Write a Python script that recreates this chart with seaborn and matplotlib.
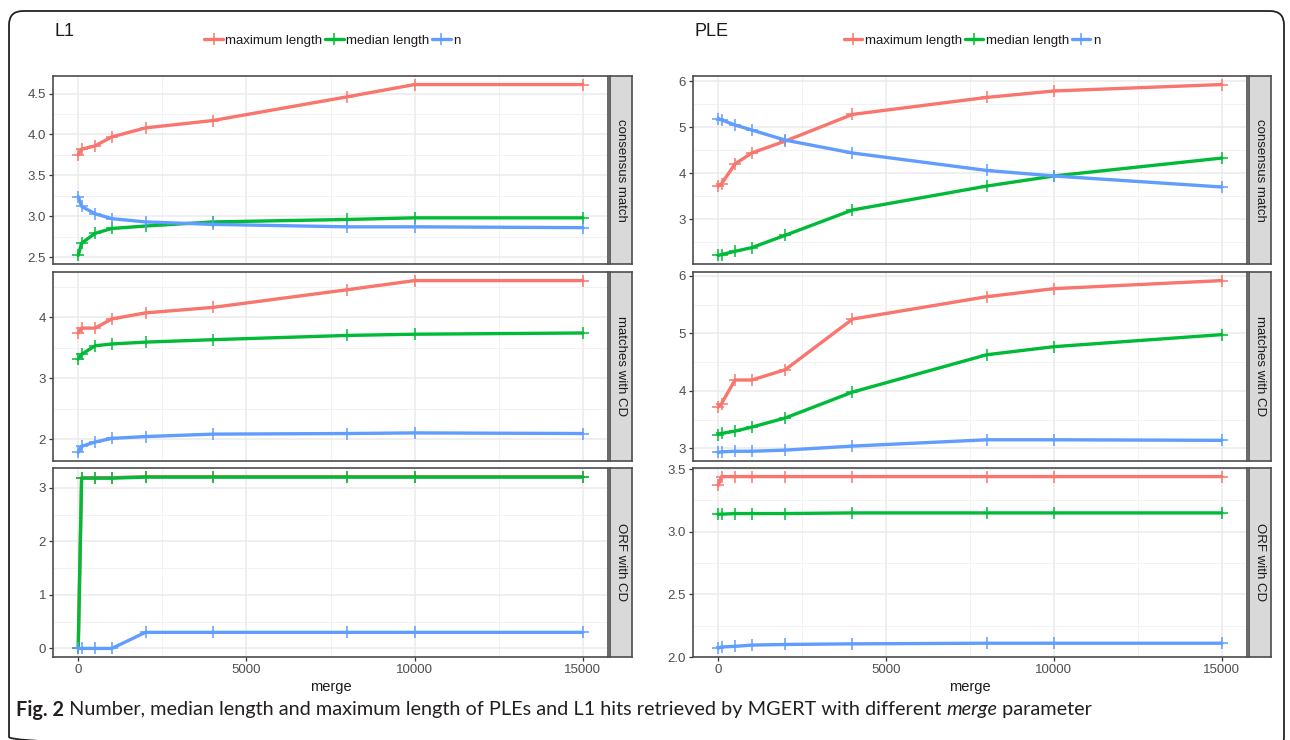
import numpy as np
import pandas as pd
import matplotlib
matplotlib.use('Agg')
import matplotlib.pyplot as plt
from matplotlib.patches import FancyBboxPatch
from matplotlib.lines import Line2D
import seaborn as sns

# merge parameter values (x axis)
merge = [0, 100, 500, 1000, 2000, 4000, 8000, 10000, 15000]
series_names = ['maximum length', 'median length', 'n']
facet_names = ['consensus match', 'matches with CD', 'ORF with CD']
x_ticks = [0, 5000, 10000, 15000]

# L1 values
l1_cons_max = [3.75, 3.82, 3.86, 3.97, 4.08, 4.17, 4.46, 4.61, 4.61]
l1_cons_med = [2.52, 2.67, 2.79, 2.85, 2.88, 2.93, 2.96, 2.98, 2.98]
l1_cons_n = [3.24, 3.12, 3.03, 2.97, 2.93, 2.90, 2.87, 2.87, 2.86]
l1_cd_max = [3.74, 3.82, 3.82, 3.97, 4.07, 4.16, 4.45, 4.60, 4.60]
l1_cd_med = [3.31, 3.39, 3.53, 3.56, 3.59, 3.63, 3.70, 3.72, 3.74]
l1_cd_n = [1.78, 1.88, 1.95, 2.01, 2.04, 2.08, 2.09, 2.10, 2.09]
l1_orf_max = [0.0, 3.19, 3.19, 3.19, 3.21, 3.21, 3.21, 3.21, 3.21]
l1_orf_med = [0.0, 3.18, 3.18, 3.18, 3.20, 3.20, 3.20, 3.20, 3.20]
l1_orf_n = [0.0, 0.0, 0.0, 0.0, 0.30, 0.30, 0.30, 0.30, 0.30]
l1_yticks = [[2.5, 3.0, 3.5, 4.0, 4.5], [2, 3, 4], [0, 1, 2, 3]]

# PLE values
ple_cons_max = [3.72, 3.77, 4.20, 4.44, 4.70, 5.28, 5.65, 5.79, 5.93]
ple_cons_med = [2.21, 2.23, 2.30, 2.38, 2.65, 3.20, 3.72, 3.94, 4.33]
ple_cons_n = [5.19, 5.16, 5.05, 4.94, 4.72, 4.44, 4.06, 3.94, 3.70]
ple_cd_max = [3.72, 3.78, 4.19, 4.19, 4.37, 5.25, 5.64, 5.78, 5.92]
ple_cd_med = [3.24, 3.26, 3.30, 3.37, 3.53, 3.98, 4.63, 4.77, 4.98]
ple_cd_n = [2.93, 2.94, 2.95, 2.95, 2.97, 3.04, 3.15, 3.15, 3.14]
ple_orf_max = [3.37, 3.44, 3.44, 3.44, 3.44, 3.44, 3.44, 3.44, 3.44]
ple_orf_med = [3.14, 3.14, 3.145, 3.145, 3.145, 3.15, 3.15, 3.15, 3.15]
ple_orf_n = [2.07, 2.08, 2.085, 2.095, 2.10, 2.105, 2.11, 2.11, 2.11]
ple_yticks = [[3, 4, 5, 6], [3, 4, 5, 6], [2.0, 2.5, 3.0, 3.5]]

caption_bold = 'Fig. 2'
caption_text = ' Number, median length and maximum length of PLEs and L1 hits retrieved by MGERT with different '
caption_italic = 'merge'
caption_end = ' parameter'

palette = {'maximum length': '#F8766D', 'median length': '#00BA38', 'n': '#619CFF'}


def long_table(block):
    rows = []
    for facet, series in zip(facet_names, block):
        for name, values in zip(series_names, series):
            for m, v in zip(merge, values):
                rows.append({'facet': facet, 'series': name, 'merge': m, 'value': v})
    return pd.DataFrame(rows)


l1_df = long_table([[l1_cons_max, l1_cons_med, l1_cons_n],
                    [l1_cd_max, l1_cd_med, l1_cd_n],
                    [l1_orf_max, l1_orf_med, l1_orf_n]])
ple_df = long_table([[ple_cons_max, ple_cons_med, ple_cons_n],
                     [ple_cd_max, ple_cd_med, ple_cd_n],
                     [ple_orf_max, ple_orf_med, ple_orf_n]])

sns.set_theme(style='white')
plt.rcParams['font.family'] = ['Liberation Sans', 'DejaVu Sans']

W, H = 1290, 740
fig = plt.figure(figsize=(W / 100, H / 100), dpi=100)
fig.patch.set_facecolor('white')


def px(x0, y0, x1, y1):
    return [x0 / W, 1 - y1 / H, (x1 - x0) / W, (y1 - y0) / H]


# background axes in pixel units for the frame and texts
bg = fig.add_axes([0, 0, 1, 1])
bg.set_xlim(0, W)
bg.set_ylim(H, 0)
bg.axis('off')
bg.add_patch(FancyBboxPatch((9, 11), 1275, 740, boxstyle='round,pad=0,rounding_size=14',
                            fc='none', ec='#222222', lw=1.3))

rows_y = [(76, 264), (272, 461), (468, 657)]
blocks = [('L1', l1_df, l1_yticks, 53, 608), ('PLE', ple_df, ple_yticks, 693, 1247)]

grey_text = '#4D4D4D'
border = '#4D4D4D'

for title, df, yticks_all, x0, x1 in blocks:
    for i, facet in enumerate(facet_names):
        y0, y1 = rows_y[i]
        ax = fig.add_axes(px(x0, y0, x1, y1))
        sub = df[df['facet'] == facet]
        sns.lineplot(data=sub, x='merge', y='value', hue='series', hue_order=series_names,
                     palette=palette, marker='+', markersize=9, linewidth=2.4,
                     legend=False, ax=ax, sort=True)
        for ln in ax.lines:
            ln.set_markeredgecolor(ln.get_color())
            ln.set_markeredgewidth(1.1)

        # ggplot-like expansion (5%)
        lo, hi = sub['value'].min(), sub['value'].max()
        pad = (hi - lo) * 0.05
        ax.set_ylim(lo - pad, hi + pad)
        ax.set_xlim(-750, 15750)

        yt = yticks_all[i]
        step = yt[1] - yt[0]
        ax.set_yticks(yt)
        if step < 1:
            ax.set_yticklabels(['%.1f' % t for t in yt])
        else:
            ax.set_yticklabels(['%d' % t for t in yt])
        minor_y = [t + step / 2 for t in [yt[0] - step] + yt]
        minor_y = [t for t in minor_y if lo - pad < t < hi + pad]
        ax.set_yticks(minor_y, minor=True)
        ax.set_xticks(x_ticks)
        ax.set_xticks([2500, 7500, 12500], minor=True)

        ax.grid(True, which='major', color='#EBEBEB', lw=1.1)
        ax.grid(True, which='minor', color='#F2F2F2', lw=0.7)
        ax.set_axisbelow(True)
        for s in ax.spines.values():
            s.set_color(border)
            s.set_linewidth(1.2)
        ax.tick_params(axis='both', which='major', length=3, width=0.9, color='#333333',
                       labelcolor=grey_text, labelsize=9.5, pad=2, left=True, bottom=True)
        ax.tick_params(axis='both', which='minor', length=0)
        ax.set_ylabel('')
        if i < 2:
            ax.set_xticklabels([])
            ax.tick_params(axis='x', which='major', length=0)
            ax.set_xlabel('')
        else:
            ax.set_xticklabels([str(t) for t in x_ticks])
            ax.set_xlabel('merge', fontsize=10.5, color='#1A1A1A', labelpad=3)

        # facet strip on the right
        st = fig.add_axes(px(x1 + 2, y0, x1 + 24, y1))
        st.set_facecolor('#D9D9D9')
        st.set_xticks([])
        st.set_yticks([])
        for s in st.spines.values():
            s.set_color(border)
            s.set_linewidth(1.2)
        st.text(0.5, 0.5, facet, rotation=270, ha='center', va='center',
                fontsize=9.5, color='#1A1A1A', transform=st.transAxes)

    bg.text(x0 + 1, 32, title, fontsize=13, color='#1A1A1A', ha='left', va='center')
    handles = [Line2D([], [], color=palette[n], lw=2.4, marker='+', markersize=9,
                      markeredgewidth=1.1) for n in series_names]
    cx = (x0 + x1) / 2 + 2
    fig.legend(handles, series_names, ncol=3, loc='center', frameon=False,
               bbox_to_anchor=(cx / W, 1 - 41 / H), fontsize=9.5, handlelength=1.4,
               handletextpad=0.2, columnspacing=0.2, labelcolor='#1A1A1A')

# caption with bold and italic pieces
renderer = fig.canvas.get_renderer()
cap_kw = dict(fontsize=14.3, color='#231F20', va='center', ha='left', family=['Lato', 'DejaVu Sans'])
x = 16
for piece, kw in [(caption_bold, {'weight': 'bold'}), (caption_text, {}),
                  (caption_italic, {'style': 'italic'}), (caption_end, {})]:
    t = bg.text(x, 710, piece, **cap_kw, **kw)
    x = t.get_window_extent(renderer=renderer).x1

fig.savefig('out.png', dpi=100)
